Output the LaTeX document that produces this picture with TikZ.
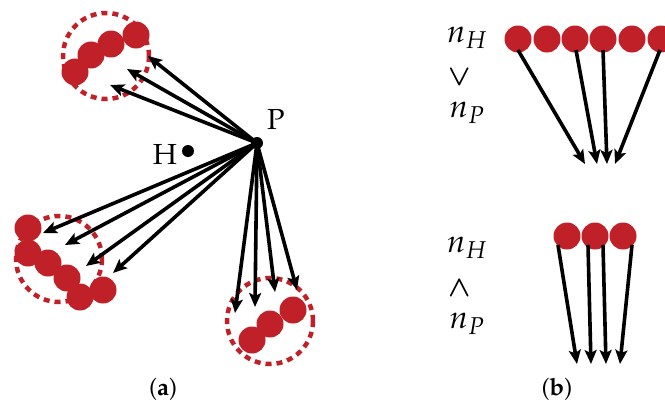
\documentclass[tikz,border=0pt]{standalone}
\usepackage[T1]{fontenc}
\usepackage{mathpazo}
\usepackage{bm}
\usetikzlibrary{arrows.meta}
\definecolor{dotred}{RGB}{192,32,40}
\begin{document}
\begin{tikzpicture}[x=1pt,y=-1pt,
  ball/.style={circle,fill=dotred,minimum size=27pt,inner sep=0pt},
  ring/.style={draw=dotred,line width=4.5pt,dash pattern=on 6pt off 5pt},
  arr/.style={line width=3.6pt,-{Stealth[length=14pt,width=12pt,inset=3pt]}},
  ptlbl/.style={font=\fontsize{29}{32}\selectfont,inner sep=0pt},
  nlbl/.style={font=\fontsize{32}{34}\selectfont,inner sep=0pt},
  oplbl/.style={font=\fontsize{28}{30}\selectfont,inner sep=0pt},
  captext/.style={font=\fontsize{24}{26}\selectfont,inner sep=0pt}]
\useasboundingbox (0,0) rectangle (665,405);
% ---------- (a) ----------
% rings
\draw[ring] (106,56) circle (43);
\draw[ring] (59,259) circle (43);
\draw[ring] (270,321) circle (43);
% top cluster
\node[ball] (t1) at (75,72) {};
\node[ball] (t2) at (91,55) {};
\node[ball] (t3) at (111,44) {};
\node[ball] (t4) at (136,35) {};
% left cluster
\node[ball] (l1) at (28,228) {};
\node[ball] (l2) at (28,253) {};
\node[ball] (l3) at (48,263) {};
\node[ball] (l4) at (67,278) {};
\node[ball] (l6) at (103,290) {};
\node[ball] (l5) at (80,297) {};
% right cluster
\node[ball] (r1) at (252,340) {};
\node[ball] (r2) at (270,324) {};
\node[ball] (r3) at (293,310) {};
% point P and H
\fill (257,143) circle (6pt);
\coordinate (P) at (257,143);
\node[ptlbl] (Plbl) at (276,119) {P};
\fill (188,151) circle (6pt);
\coordinate (H) at (188,151);
\node[ptlbl] (Hlbl) at (165,154) {H};
% arrow tips
\coordinate (ta) at (148,56);
\coordinate (tb) at (127,69);
\coordinate (tc) at (110,85);
\coordinate (la) at (43,233);
\coordinate (lb) at (65,245);
\coordinate (lc) at (86,266);
\coordinate (ld) at (113,273);
\coordinate (ra) at (235,313);
\coordinate (rb) at (255,307);
\coordinate (rc) at (275,292);
\coordinate (rd) at (297,290);
\foreach \t in {ta,tb,tc,la,lb,lc,ld,ra,rb,rc,rd}
  \draw[arr] (P) -- (\t);
\node[captext] (capa) at (163,389) {(\textbf{a})};
% ---------- (b) ----------
\node[nlbl] (nh1) at (467,38) {$n_H$};
\node[oplbl] (gt) at (460,77) {$\bm{\vee}$};
\node[nlbl] (np1) at (467,113) {$n_P$};
\node[ball] (b1) at (518,39) {};
\node[ball] (b2) at (547,39) {};
\node[ball] (b3) at (575,39) {};
\node[ball] (b4) at (603,39) {};
\node[ball] (b5) at (632,39) {};
\node[ball] (b6) at (661,39) {};
\coordinate (s1) at (518,50);
\coordinate (s2) at (576,50);
\coordinate (s3) at (603,50);
\coordinate (s4) at (660,50);
\coordinate (e1) at (585,164);
\coordinate (e2) at (597,164);
\coordinate (e3) at (607,164);
\coordinate (e4) at (615,164);
\draw[arr] (s1) -- (e1);
\draw[arr] (s2) -- (e2);
\draw[arr] (s3) -- (e3);
\draw[arr] (s4) -- (e4);
\node[nlbl] (nh2) at (467,248) {$n_H$};
\node[oplbl] (lt) at (460,288) {$\bm{\wedge}$};
\node[nlbl] (np2) at (467,324) {$n_P$};
\node[ball] (c1) at (567,236) {};
\node[ball] (c2) at (595,236) {};
\node[ball] (c3) at (623,236) {};
\coordinate (u1) at (558,245);
\coordinate (u2) at (588,245);
\coordinate (u3) at (603,245);
\coordinate (u4) at (632,245);
\coordinate (v1) at (577,364);
\coordinate (v2) at (591,364);
\coordinate (v3) at (606,364);
\coordinate (v4) at (620,364);
\draw[arr] (u1) -- (v1);
\draw[arr] (u2) -- (v2);
\draw[arr] (u3) -- (v3);
\draw[arr] (u4) -- (v4);
\node[captext] (capb) at (557,389) {(\textbf{b})};
\end{tikzpicture}
\end{document}
